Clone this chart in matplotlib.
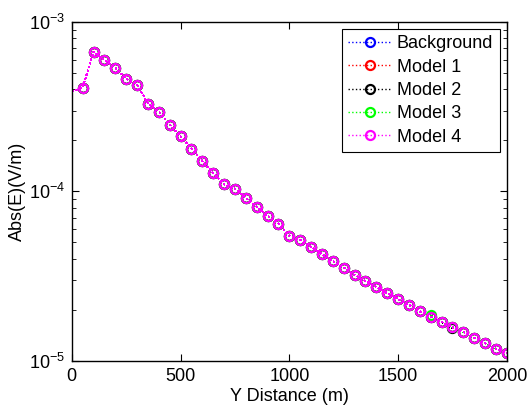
import matplotlib
matplotlib.use('Agg')
import matplotlib.pyplot as plt
from matplotlib.ticker import LogLocator, NullFormatter, FixedLocator

plt.rcParams['font.family'] = ['Liberation Sans', 'DejaVu Sans']
plt.rcParams['mathtext.fontset'] = 'custom'
plt.rcParams['mathtext.rm'] = 'Liberation Sans'
plt.rcParams['mathtext.it'] = 'Liberation Sans'

# receiver positions along Y (m) and field amplitudes (V/m)
y_dist = [-50, 50, 100, 150, 200, 250, 300, 350, 400, 450, 500,
          550, 600, 650, 700, 750, 800, 850, 900, 950, 1000,
          1050, 1100, 1150, 1200, 1250, 1300, 1350, 1400, 1450, 1500,
          1550, 1600, 1650, 1700, 1750, 1800, 1850, 1900, 1950, 2000]

model4 = [3.68e-4, 4.09e-4, 6.68e-4, 5.94e-4, 5.37e-4, 4.63e-4, 4.27e-4, 3.30e-4, 2.96e-4, 2.48e-4, 2.11e-4,
          1.79e-4, 1.51e-4, 1.28e-4, 1.10e-4, 1.04e-4, 9.16e-5, 8.10e-5, 7.19e-5, 6.45e-5, 5.46e-5,
          5.17e-5, 4.71e-5, 4.26e-5, 3.89e-5, 3.55e-5, 3.21e-5, 2.96e-5, 2.73e-5, 2.51e-5, 2.32e-5,
          2.14e-5, 1.96e-5, 1.82e-5, 1.70e-5, 1.58e-5, 1.48e-5, 1.37e-5, 1.27e-5, 1.18e-5, 1.11e-5]
background = list(model4)
model1 = list(model4)
model2 = list(model4)
model2[35] = 1.56e-5
model3 = list(model4)
model3[33] = 1.86e-5

series = [("Background", background, (0, 0, 1)),
          ("Model 1", model1, (1, 0, 0)),
          ("Model 2", model2, (0, 0, 0)),
          ("Model 3", model3, (0, 1, 0)),
          ("Model 4", model4, (1, 0, 1))]

fig = plt.figure(figsize=(5.28, 4.13), dpi=100)
ax = fig.add_axes([0.136, 0.126, 0.824, 0.821])

for name, vals, col in series:
    ax.semilogy(y_dist, vals, ':', color=col, marker='o', markersize=6.5,
                markerfacecolor='none', markeredgewidth=1.6, linewidth=1.0,
                antialiased=False, label=name)

ax.set_xlim(0, 2000)
ax.set_ylim(1e-5, 1e-3)
ax.xaxis.set_major_locator(FixedLocator([0, 500, 1000, 1500, 2000]))
ax.yaxis.set_major_locator(LogLocator(base=10, numticks=10))
ax.yaxis.set_minor_locator(LogLocator(base=10, subs=range(2, 10), numticks=10))
ax.yaxis.set_minor_formatter(NullFormatter())
ax.tick_params(which='both', direction='in', top=True, right=True, labelsize=13)
ax.tick_params(which='major', length=5, pad=5)
ax.tick_params(which='minor', length=3)
for s in ax.spines.values():
    s.set_linewidth(1.0)

ax.set_xlabel('Y Distance (m)', fontsize=13, labelpad=2)
ax.set_ylabel('Abs(E)(V/m)', fontsize=13, labelpad=2)

leg = ax.legend(loc='upper right', fontsize=13, fancybox=False, edgecolor='black',
                framealpha=1, borderpad=0.35, labelspacing=0.35, handlelength=2.4,
                handletextpad=0.3, borderaxespad=0.4)
leg.get_frame().set_linewidth(0.8)

fig.savefig('out.png', dpi=100)
